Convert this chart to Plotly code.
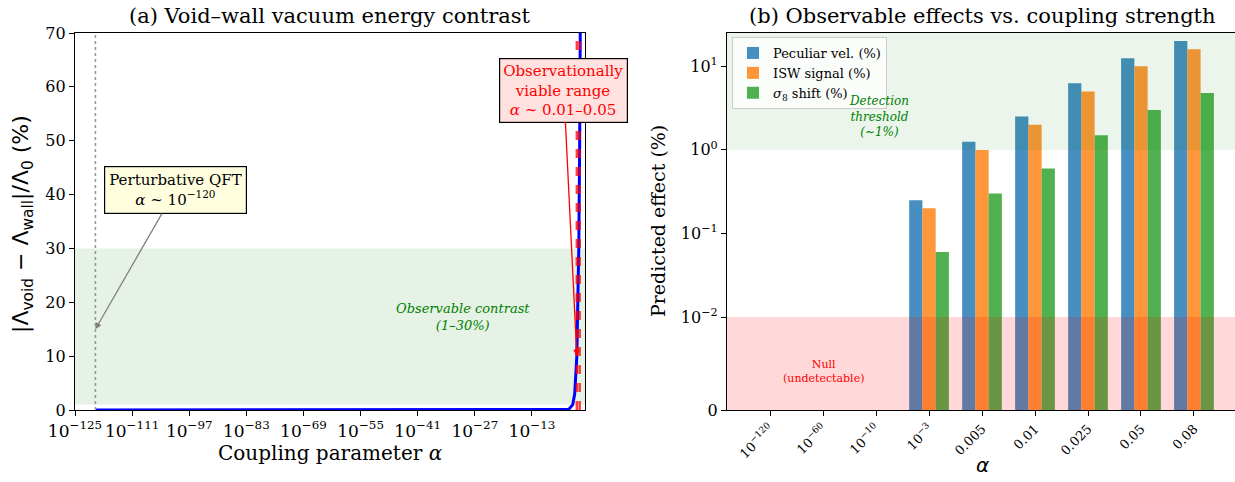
import plotly.graph_objects as go
import numpy as np

# ---- Panel (a): void-wall vacuum energy contrast ----
alpha_curve = [1e-120, 1e-60, 1e-20, 1e-6, 1e-4, 1e-3, 3e-3, 0.01, 0.03, 0.05, 0.08]
contrast_curve = [0.0, 0.0, 0.0, 0.0, 0.1, 1.0, 3.0, 10.0, 30.0, 50.0, 80.0]
viable_alpha = [0.01, 0.05]
qft_alpha = 1e-120
observable_band = [1, 30]

left_xticks_exp = [-125, -111, -97, -83, -69, -55, -41, -27, -13]
left_yticks = [0, 10, 20, 30, 40, 50, 60, 70]

# ---- Panel (b): observable effects per coupling strength ----
categories = ["10<sup>−120</sup>", "10<sup>−60</sup>", "10<sup>−10</sup>", "10<sup>−3</sup>",
              "0.005", "0.01", "0.025", "0.05", "0.08"]
peculiar_vel = [0.0, 0.0, 0.0, 0.25, 1.25, 2.5, 6.25, 12.5, 20.0]
isw_signal = [0.0, 0.0, 0.0, 0.20, 1.0, 2.0, 5.0, 10.0, 16.0]
sigma8_shift = [0.0, 0.0, 0.0, 0.06, 0.3, 0.6, 1.5, 3.0, 4.8]
right_yticks = [0, 0.01, 0.1, 1, 10]
right_yticklabels = ["0", "10<sup>−2</sup>", "10<sup>−1</sup>", "10<sup>0</sup>", "10<sup>1</sup>"]
right_ylim = [0, 25]

# symmetric-log transform (linear below linthresh, log above)
LINTHRESH = 0.01
LINSCALE = 1.0 / (1 - 0.1)


def symlog(v):
    v = np.asarray(v, dtype=float)
    out = np.where(v <= LINTHRESH, v / LINTHRESH * LINSCALE,
                   LINSCALE + np.log10(np.maximum(v, LINTHRESH) / LINTHRESH))
    return out


SERIF = "DejaVu Serif"
W, H = 1235, 482
y_dom = [(H - 410) / H, (H - 33) / H]

fig = go.Figure()

# curve
fig.add_trace(go.Scatter(x=alpha_curve, y=contrast_curve, mode="lines",
                         line=dict(color="#0000ff", width=3), showlegend=False,
                         xaxis="x", yaxis="y"))

# bars
x_idx = list(range(len(categories)))
bar_specs = [("Peculiar vel. (%)", peculiar_vel, "#1f77b4"),
             ("ISW signal (%)", isw_signal, "#ff7f0e"),
             ("<i>σ</i><sub>8</sub> shift (%)", sigma8_shift, "#2ca02c")]
for name, vals, col in bar_specs:
    fig.add_trace(go.Bar(x=x_idx, y=symlog(vals), name=name, marker=dict(color=col, line=dict(width=0)),
                         opacity=0.82, xaxis="x2", yaxis="y2"))

shapes = []
# observable band (a)
shapes.append(dict(type="rect", xref="x domain", yref="y", x0=0, x1=1,
                   y0=observable_band[0], y1=observable_band[1],
                   fillcolor="rgba(0,128,0,0.1)", line=dict(width=0), layer="below"))
# perturbative QFT marker
shapes.append(dict(type="line", xref="x", yref="y domain", x0=qft_alpha, x1=qft_alpha, y0=0, y1=1,
                   line=dict(color="#999999", width=1.6, dash="dot")))
# viable range markers
for a in viable_alpha:
    shapes.append(dict(type="line", xref="x", yref="y domain", x0=a, x1=a, y0=0, y1=1,
                       line=dict(color="rgba(255,0,0,0.75)", width=2.5, dash="dash")))
# detection and null regions (b)
shapes.append(dict(type="rect", xref="x2 domain", yref="y2", x0=0, x1=1,
                   y0=float(symlog(1.0)), y1=float(symlog(right_ylim[1])),
                   fillcolor="rgba(0,128,0,0.08)", line=dict(width=0), layer="above"))
shapes.append(dict(type="rect", xref="x2 domain", yref="y2", x0=0, x1=1,
                   y0=0, y1=float(symlog(0.01)),
                   fillcolor="rgba(255,0,0,0.15)", line=dict(width=0), layer="above"))


def paper_text(text, px, py, size=19, family=SERIF, angle=0):
    return dict(text=text, x=px / W, y=1 - py / H, xref="paper", yref="paper",
                xanchor="center", yanchor="middle", textangle=angle, showarrow=False,
                font=dict(family=family, size=size, color="black"))


annotations = [
    paper_text("(a) Void–wall vacuum energy contrast", 330, 16, size=21),
    paper_text("(b) Observable effects vs. coupling strength", 982, 16, size=21),
    paper_text("Coupling parameter <i>α</i>", 330, 453, size=20),
    paper_text("<i>α</i>", 982, 465, size=20, family="DejaVu Sans"),
    paper_text("|Λ<sub>void</sub> − Λ<sub>wall</sub>|/Λ<sub>0</sub> (%)", 22, 224,
               size=22, family="DejaVu Sans", angle=-90),
    paper_text("Predicted effect (%)", 658, 221, size=19, angle=-90),
    dict(text="<i>Observable contrast</i><br><i>(1–30%)</i>", x=-30, y=17.3, xref="x", yref="y",
         showarrow=False, font=dict(family=SERIF, size=13, color="green")),
    dict(text="Perturbative QFT<br><i>α</i> ~ 10<sup>−120</sup>", x=np.log10(qft_alpha), y=15,
         xref="x", yref="y", ax=80, ay=-139, showarrow=True, arrowhead=2, arrowsize=1,
         arrowwidth=1.3, arrowcolor="gray", bgcolor="#ffffe0", bordercolor="black",
         borderwidth=1.2, borderpad=4, font=dict(family=SERIF, size=15, color="black")),
    dict(text="Observationally<br>viable range<br><i>α</i> ~ 0.01–0.05", x=np.log10(viable_alpha[0]), y=10,
         xref="x", yref="y", ax=-13, ay=-266, showarrow=True, arrowhead=2, arrowsize=1,
         arrowwidth=1.3, arrowcolor="red", bgcolor="#ffe2e0", bordercolor="black",
         borderwidth=1.2, borderpad=3, font=dict(family=SERIF, size=15, color="red")),
    dict(text="<i>Detection</i><br><i>threshold</i><br><i>(~1%)</i>", x=2.05, y=float(symlog(2.5)),
         xref="x2", yref="y2", showarrow=False, font=dict(family=SERIF, size=12, color="green")),
    dict(text="Null<br>(undetectable)", x=1.0, y=float(symlog(0.0041)), xref="x2", yref="y2",
         showarrow=False, font=dict(family=SERIF, size=11, color="red")),
]

axis_common = dict(showline=True, linecolor="black", linewidth=1.2, ticks="outside", ticklen=5,
                   tickcolor="black", showgrid=False, zeroline=False, automargin=False,
                   tickfont=dict(family=SERIF, size=16, color="black"))

fig.update_layout(
    width=W, height=H, margin=dict(l=0, r=0, t=0, b=0),
    paper_bgcolor="white", plot_bgcolor="white",
    barmode="group", bargap=0.25, bargroupgap=0,
    shapes=shapes, annotations=annotations,
    xaxis=dict(domain=[75 / W, 585 / W], anchor="y", type="log", range=[-125, 0],
               tickvals=[10.0 ** e for e in left_xticks_exp],
               ticktext=[f"10<sup>−{-e}</sup>" for e in left_xticks_exp],
               mirror=True,
               **{**axis_common, "tickfont": dict(family=SERIF, size=17, color="black")}),
    yaxis=dict(domain=y_dom, anchor="x", range=[0, 70], tickvals=left_yticks, mirror=True,
               **axis_common),
    xaxis2=dict(domain=[727 / W, 1.0], anchor="y2", range=[-0.8125, 8.774],
                tickvals=x_idx, ticktext=categories, tickangle=-45, mirror=True,
                **{**axis_common, "tickfont": dict(family=SERIF, size=13, color="black")}),
    yaxis2=dict(domain=y_dom, anchor="x2", range=[0, float(symlog(right_ylim[1]))],
                tickvals=[float(v) for v in symlog(right_yticks)], ticktext=right_yticklabels,
                **axis_common),
    legend=dict(x=732 / W, y=1 - 37 / H, xanchor="left", yanchor="top",
                bgcolor="rgba(255,255,255,0.8)", bordercolor="#cccccc", borderwidth=1,
                font=dict(family=SERIF, size=13, color="black"), tracegroupgap=0,
                itemwidth=30),
)

fig.write_html("out.html")
